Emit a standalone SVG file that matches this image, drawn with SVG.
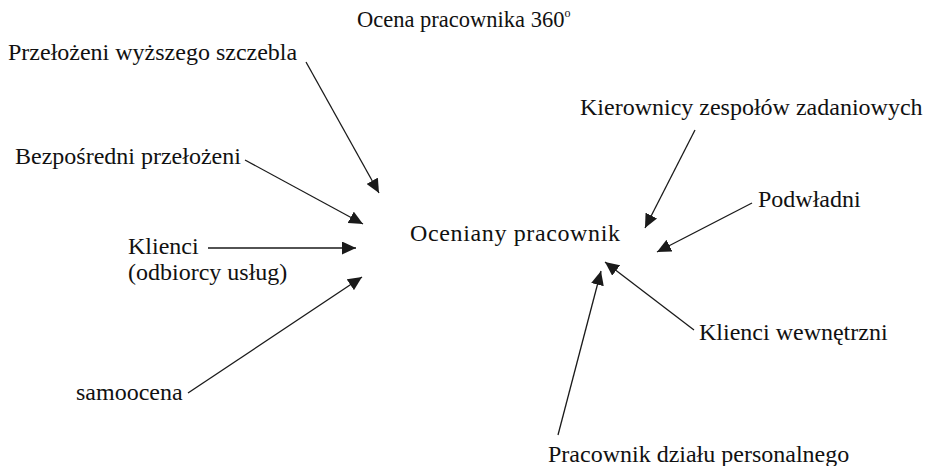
<svg xmlns="http://www.w3.org/2000/svg" width="929" height="466" viewBox="0 0 929 466">
  <style>
    text { fill: #111; }
    .lbl { font-size: 24px; }
    .title { font-size: 22.5px; }
    .sup { font-size: 12px; }
    .arrow { stroke: #1a1a1a; stroke-width: 1.3; fill: none; marker-end: url(#head); }
  </style>
  <defs>
    <marker id="head" markerUnits="userSpaceOnUse" markerWidth="15" markerHeight="13" refX="14" refY="6.5" orient="auto">
      <path d="M0,0 L14,6.5 L0,13 Z" fill="#1a1a1a"/>
    </marker>
  </defs>
  <rect width="929" height="466" fill="#fff"/>

  <g font-family="'Liberation Serif', 'DejaVu Serif', serif">
    <!-- heading -->
    <text class="title" x="357" y="27">Ocena pracownika 360<tspan class="sup" dy="-10">o</tspan></text>

    <!-- central node -->
    <g id="oceniany">
      <text class="lbl" x="410" y="241" textLength="210" lengthAdjust="spacing">Oceniany  pracownik</text>
    </g>

    <!-- left-hand raters -->
    <g id="przelozeni-wyzsi">
      <text class="lbl" x="8" y="60">Przełożeni wyższego szczebla</text>
    </g>
    <g id="bezposredni">
      <text class="lbl" x="15" y="164">Bezpośredni przełożeni</text>
    </g>
    <g id="klienci">
      <text class="lbl" x="128" y="254">Klienci</text>
      <text class="lbl" x="128" y="280">(odbiorcy usług)</text>
    </g>
    <g id="samoocena">
      <text class="lbl" x="76" y="400">samoocena</text>
    </g>

    <!-- right-hand raters -->
    <g id="kierownicy">
      <text class="lbl" x="580" y="115">Kierownicy zespołów zadaniowych</text>
    </g>
    <g id="podwladni">
      <text class="lbl" x="758" y="207">Podwładni</text>
    </g>
    <g id="klienci-wewnetrzni">
      <text class="lbl" x="699" y="340">Klienci wewnętrzni</text>
    </g>
    <g id="dzial-personalny">
      <text class="lbl" x="548" y="462">Pracownik działu personalnego</text>
    </g>
  </g>

  <!-- connectors -->
  <g id="connectors">
    <line class="arrow" x1="306" y1="62" x2="379" y2="193"/>
    <line class="arrow" x1="245" y1="160" x2="363" y2="224"/>
    <line class="arrow" x1="208" y1="248" x2="356" y2="248"/>
    <line class="arrow" x1="188" y1="393" x2="362" y2="277"/>
    <line class="arrow" x1="695" y1="130" x2="645" y2="228"/>
    <line class="arrow" x1="752" y1="203" x2="657" y2="252"/>
    <line class="arrow" x1="694" y1="330" x2="605" y2="262"/>
    <line class="arrow" x1="558" y1="435" x2="601" y2="271"/>
  </g>
</svg>
